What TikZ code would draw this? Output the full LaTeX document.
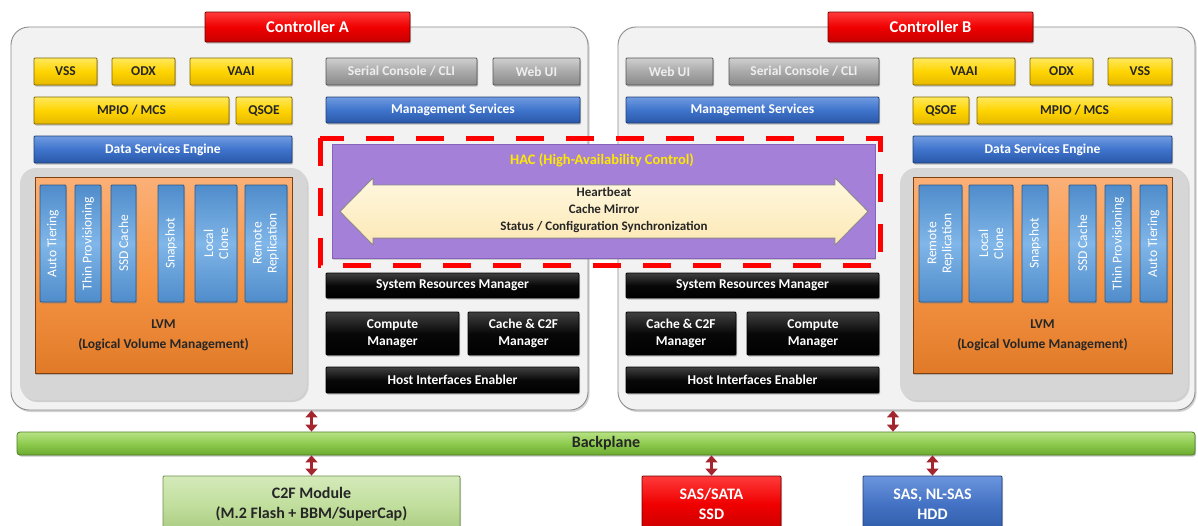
\documentclass[tikz,border=0pt]{standalone}
\usepackage{xcolor}
\usepackage{fontspec}
\setmainfont{Carlito}
\usetikzlibrary{shadows,arrows.meta}

\definecolor{panelfill}{HTML}{F2F2F2}
\definecolor{paneledge}{HTML}{8C8C8C}
\definecolor{lvmgray}{HTML}{D6D6D6}
\definecolor{orgtop}{HTML}{FBB077}
\definecolor{orgmid}{HTML}{F79646}
\definecolor{orgbot}{HTML}{E07A28}
\definecolor{orgedge}{HTML}{7F4010}
\definecolor{yeltop}{HTML}{FFE85C}
\definecolor{yelmid}{HTML}{FFD400}
\definecolor{yelbot}{HTML}{E6B800}
\definecolor{yeledge}{HTML}{806600}
\definecolor{darktext}{HTML}{262626}
\definecolor{blutop}{HTML}{6F9BE0}
\definecolor{blumid}{HTML}{3F74CC}
\definecolor{blubot}{HTML}{2A58A8}
\definecolor{bluedge}{HTML}{1F3D73}
\definecolor{barlight}{HTML}{80B6E8}
\definecolor{bardark}{HTML}{4F8CCB}
\definecolor{baredge}{HTML}{2A5A8C}
\definecolor{grytop}{HTML}{CFCFCF}
\definecolor{grymid}{HTML}{A9A9A9}
\definecolor{grybot}{HTML}{8A8A8A}
\definecolor{gryedge}{HTML}{555555}
\definecolor{grytext}{HTML}{EEEEEE}
\definecolor{blktop}{HTML}{404040}
\definecolor{blkmid}{HTML}{080808}
\definecolor{redtop}{HTML}{FF3A3A}
\definecolor{redmid}{HTML}{F00000}
\definecolor{redbot}{HTML}{C80000}
\definecolor{rededge}{HTML}{700000}
\definecolor{hddtop}{HTML}{6B95DD}
\definecolor{hddmid}{HTML}{4472C4}
\definecolor{hddbot}{HTML}{2F5BA8}
\definecolor{hddedge}{HTML}{203F78}
\definecolor{cftop}{HTML}{D4EABA}
\definecolor{cfmid}{HTML}{C2DF9E}
\definecolor{cfbot}{HTML}{A9CB80}
\definecolor{cfedge}{HTML}{6E8F4A}
\definecolor{bptop}{HTML}{B8E285}
\definecolor{bpmid}{HTML}{8DCB4F}
\definecolor{bpbot}{HTML}{6BAA30}
\definecolor{bpedge}{HTML}{4C7F22}
\definecolor{hacfill}{HTML}{A580D8}
\definecolor{hacedge}{HTML}{8463B8}
\definecolor{hactext}{HTML}{FFE800}
\definecolor{creamtop}{HTML}{FFF8E0}
\definecolor{creambot}{HTML}{FCE8B4}
\definecolor{creamedge}{HTML}{8A8A8A}
\definecolor{linkred}{HTML}{A3262E}

\tikzset{
  blk/.style={draw=#1, line width=0.8pt, rounded corners=1pt, inner sep=1pt, align=center,
    font=\fontsize{13.5}{16.5}\selectfont\bfseries,
    drop shadow={shadow xshift=1.2pt,shadow yshift=-1.5pt,opacity=.45}},
  yel/.style={blk=yeledge, top color=yeltop, bottom color=yelbot, middle color=yelmid, text=darktext},
  blu/.style={blk=bluedge, top color=blutop, bottom color=blubot, middle color=blumid, text=white},
  gry/.style={blk=gryedge, top color=grytop, bottom color=grybot, middle color=grymid, text=grytext},
  blk2/.style={blk=black, top color=blktop, bottom color=black, middle color=blkmid, text=white},
  bar/.style={blk=baredge, rotate=90, top color=bardark, bottom color=bardark, middle color=barlight,
    text=white, font=\fontsize{13.5}{15}\selectfont, minimum width=117, minimum height=26},
  ctrl/.style={blk=rededge, top color=redtop, bottom color=redbot, middle color=redmid, text=white,
    font=\fontsize{16.5}{19}\selectfont\bfseries, minimum width=205, minimum height=30},
  disk/.style={blk=#1, font=\fontsize{16}{19.5}\selectfont\bfseries, minimum width=139, minimum height=56},
  panel/.style={draw=paneledge, fill=panelfill, line width=0.9pt, rounded corners=18pt,
    drop shadow={shadow xshift=1.5pt,shadow yshift=-2pt,opacity=.35}},
  lvmbg/.style={fill=lvmgray, rounded corners=16pt,
    drop shadow={shadow xshift=1.5pt,shadow yshift=-2pt,opacity=.3}},
  lvm/.style={blk=orgedge, top color=orgtop, bottom color=orgbot, middle color=orgmid, rounded corners=0pt},
  link/.style={draw=linkred, line width=3pt, {Triangle[width=12pt,length=7pt]}-{Triangle[width=12pt,length=7pt]}}
}

\begin{document}
\begin{tikzpicture}[x=1pt,y=-1pt]
\useasboundingbox[fill=white] (0,0) rectangle (1198,525);

\node[panel, minimum width=577, minimum height=383] (panelA) at (299.5,218.5) {};
\node[panel, minimum width=577, minimum height=383] (panelB) at (906.5,218.5) {};

\node[ctrl] (ctrlA) at (307.5,27) {Controller A};
\node[ctrl] (ctrlB) at (930.5,27) {Controller B};

% controller A, host side
\node[yel, minimum width=63, minimum height=27] (vssA) at (65.5,71.5) {VSS};
\node[yel, minimum width=63, minimum height=27] (odxA) at (143.5,71.5) {ODX};
\node[yel, minimum width=102, minimum height=27] (vaaiA) at (241,71.5) {VAAI};
\node[yel, minimum width=195, minimum height=27] (mpioA) at (131.5,110.5) {MPIO / MCS};
\node[yel, minimum width=56, minimum height=27] (qsoeA) at (264,110.5) {QSOE};
\node[blu, minimum width=258, minimum height=27] (dseA) at (163,149.5) {Data Services Engine};

\node[lvmbg, minimum width=287, minimum height=232] (lvmbgA) at (163.5,284) {};
\node[lvm, minimum width=257, minimum height=196] (lvmA) at (163.5,275) {};
\node[bar] (tierA) at (53,243.5) {Auto Tiering};
\node[bar] (thinA) at (88,243.5) {Thin Provisioning};
\node[bar, minimum height=25] (ssdA) at (123.5,243.5) {SSD Cache};
\node[bar] (snapA) at (171,243.5) {Snapshot};
\node[bar, minimum height=42] (cloneA) at (216,243.5) {Local\\Clone};
\node[bar, minimum height=42] (replA) at (266,243.5) {Remote\\Replication};
\node[align=center, text=darktext, font=\fontsize{13.5}{20}\selectfont\bfseries] (lvmtextA) at (163.5,335)
  {LVM\\(Logical Volume Management)};

% controller A, management side
\node[gry, minimum width=151, minimum height=27] (serialA) at (401.5,71.5) {Serial Console / CLI};
\node[gry, minimum width=87, minimum height=27] (webA) at (536.5,71.5) {Web UI};
\node[blu, minimum width=254, minimum height=26] (mgmtA) at (453,110) {Management Services};
\node[blk2, minimum width=253, minimum height=25] (srmA) at (452.5,285.5) {System Resources Manager};
\node[blk2, minimum width=133, minimum height=43] (compA) at (392.5,333.5) {Compute\\Manager};
\node[blk2, minimum width=111, minimum height=43] (cacheA) at (523.5,333.5) {Cache \& C2F\\Manager};
\node[blk2, minimum width=253, minimum height=26] (hieA) at (452.5,380) {Host Interfaces  Enabler};

% controller B, management side
\node[gry, minimum width=87, minimum height=27] (webB) at (669.5,71.5) {Web UI};
\node[gry, minimum width=150, minimum height=27] (serialB) at (804,71.5) {Serial Console / CLI};
\node[blu, minimum width=253, minimum height=26] (mgmtB) at (752.5,110) {Management Services};
\node[blk2, minimum width=253, minimum height=25] (srmB) at (752.5,285.5) {System Resources Manager};
\node[blk2, minimum width=110, minimum height=43] (cacheB) at (681,333.5) {Cache \& C2F\\Manager};
\node[blk2, minimum width=132, minimum height=43] (compB) at (813,333.5) {Compute\\Manager};
\node[blk2, minimum width=253, minimum height=26] (hieB) at (752.5,380) {Host Interfaces  Enabler};

% controller B, host side
\node[yel, minimum width=102, minimum height=27] (vaaiB) at (964,71.5) {VAAI};
\node[yel, minimum width=63, minimum height=27] (odxB) at (1061.5,71.5) {ODX};
\node[yel, minimum width=64, minimum height=27] (vssB) at (1140,71.5) {VSS};
\node[yel, minimum width=56, minimum height=27] (qsoeB) at (941,110.5) {QSOE};
\node[yel, minimum width=195, minimum height=27] (mpioB) at (1074.5,110.5) {MPIO / MCS};
\node[blu, minimum width=259, minimum height=27] (dseB) at (1042.5,149.5) {Data Services Engine};

\node[lvmbg, minimum width=288, minimum height=232] (lvmbgB) at (1044,284) {};
\node[lvm, minimum width=259, minimum height=196] (lvmB) at (1042.5,275) {};
\node[bar, minimum height=43] (replB) at (940.5,243.5) {Remote\\Replication};
\node[bar, minimum height=44] (cloneB) at (991,243.5) {Local\\Clone};
\node[bar] (snapB) at (1035,243.5) {Snapshot};
\node[bar, minimum height=27] (ssdB) at (1082.5,243.5) {SSD Cache};
\node[bar] (thinB) at (1118,243.5) {Thin Provisioning};
\node[bar, minimum height=27] (tierB) at (1153.5,243.5) {Auto Tiering};
\node[align=center, text=darktext, font=\fontsize{13.5}{20}\selectfont\bfseries] (lvmtextB) at (1042.5,335)
  {LVM\\(Logical Volume Management)};

% high availability control
\draw[red, line width=5pt, dash pattern=on 28pt off 22pt] (320,138) rectangle (880,265);
\node[fill=hacfill, draw=hacedge, line width=0.8pt, minimum width=543, minimum height=114,
  drop shadow={shadow xshift=1.2pt,shadow yshift=-1.5pt,opacity=.35}] (hac) at (603.5,201) {};
\node[text=hactext, font=\fontsize{14.5}{16}\selectfont\bfseries] (hactitle) at (602,160) {HAC (High-Availability Control)};
\filldraw[draw=creamedge, line width=0.8pt, top color=creamtop, bottom color=creambot]
  (340,211.5) -- (373,178) -- (373,185) -- (835,185) -- (835,178) -- (868,211.5)
  -- (835,245) -- (835,238) -- (373,238) -- (373,245) -- cycle;
\node[align=center, text=darktext, font=\fontsize{13}{17}\selectfont\bfseries] (sync) at (604,210.5)
  {Heartbeat\\Cache Mirror\\Status / Configuration  Synchronization};

% backplane and drives
\node[blk=bpedge, top color=bptop, bottom color=bpbot, middle color=bpmid, text=darktext,
  rounded corners=3pt, font=\fontsize{16}{19}\selectfont\bfseries,
  minimum width=1178, minimum height=23] (backplane) at (606,443.5) {Backplane};
\node[disk=cfedge, top color=cftop, bottom color=cfbot, middle color=cfmid, text=darktext,
  minimum width=297] (c2f) at (311.5,504) {C2F Module\\(M.2 Flash + BBM/SuperCap)};
\node[disk=rededge, top color=redtop, bottom color=redbot, middle color=redmid, text=white] (ssd) at (711.5,504) {SAS/SATA\\SSD};
\node[disk=hddedge, top color=hddtop, bottom color=hddbot, middle color=hddmid, text=white] (hdd) at (932.5,504) {SAS, NL-SAS\\HDD};

\coordinate (arrB) at (893,0);
\draw[link] (panelA.south -| c2f.north) -- (backplane.north -| c2f.north);
\draw[link] (panelB.south -| arrB) -- (backplane.north -| arrB);
\draw[link] (backplane.south -| c2f.north) -- (c2f.north);
\draw[link] (backplane.south -| ssd.north) -- (ssd.north);
\draw[link] (backplane.south -| hdd.north) -- (hdd.north);
\end{tikzpicture}
\end{document}
